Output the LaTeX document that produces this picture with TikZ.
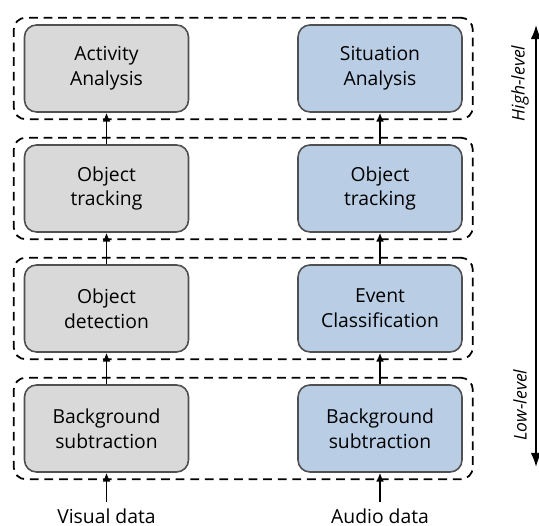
\documentclass[tikz,border=0pt]{standalone}
\usepackage{fontspec}
\setmainfont{Open Sans}
\usetikzlibrary{arrows.meta,fit}

\definecolor{boxgray}{HTML}{D9D9D9}
\definecolor{boxblue}{HTML}{B9CDE5}
\definecolor{edgegray}{HTML}{505050}

\begin{document}
\begin{tikzpicture}[node distance={24mm}, thick,
    box/.style = {draw=edgegray, line width=0.9pt, rounded corners=2.4mm, minimum width=32.8mm, minimum height=17.4mm, align=center, font=\fontsize{11}{14}\selectfont},
    gbox/.style = {box, fill=boxgray},
    bbox/.style = {box, fill=boxblue},
    layer/.style = {draw, dash pattern=on 5pt off 3.3pt, line width=1pt, rounded corners=2.4mm, inner xsep=2mm, inner ysep=1.3mm},
    flow/.style = {-{Latex[length=5pt,width=4.5pt]}, line width=1.1pt},
    lvl/.style = {rotate=90, font=\fontsize{10}{12}\selectfont\itshape}]
        \useasboundingbox (0,0) rectangle (10.78,10.52);

        % visual branch
        \node[gbox] (vbg) at (2.13,1.95) {Background\\subtraction};
        \node[gbox] (vdet) [above of = vbg] {Object\\detection};
        \node[gbox] (vtrk) [above of = vdet] {Object\\tracking};
        \node[gbox] (vact) [above of = vtrk] {Activity\\Analysis};

        % audio branch
        \node[bbox] (abg) at (7.6,1.95) {Background\\subtraction};
        \node[bbox] (acls) [above of = abg] {Event\\Classification};
        \node[bbox] (atrk) [above of = acls] {Object\\tracking};
        \node[bbox] (asit) [above of = atrk] {Situation\\Analysis};

        % dashed layers
        \node[layer, fit=(vbg)(abg)] (l1) {};
        \node[layer, fit=(vdet)(acls)] (l2) {};
        \node[layer, fit=(vtrk)(atrk)] (l3) {};
        \node[layer, fit=(vact)(asit)] (l4) {};

        \node[font=\fontsize{11}{14}\selectfont] (vin) at (2.13,0.2) {Visual data};
        \node[font=\fontsize{11}{14}\selectfont] (ain) at (7.6,0.2) {Audio data};

        \draw[flow] (vin) -- (vbg);
        \draw[flow] (vbg) -- (vdet);
        \draw[flow] (vdet) -- (vtrk);
        \draw[flow] (vtrk) -- (vact);
        \draw[flow] (ain) -- (abg);
        \draw[flow] (abg) -- (acls);
        \draw[flow] (acls) -- (atrk);
        \draw[flow] (atrk) -- (asit);

        % level axis
        \coordinate (top) at (10.72,10.02);
        \coordinate (bot) at (10.72,1.18);
        \draw[{Latex[length=8pt,width=6pt]}-{Latex[length=8pt,width=6pt]}, line width=1pt] (bot) -- (top);
        \node[lvl] (hi) at (10.4,8.85) {High-level};
        \node[lvl] (lo) at (10.4,2.42) {Low-level};

    \end{tikzpicture}
\end{document}
